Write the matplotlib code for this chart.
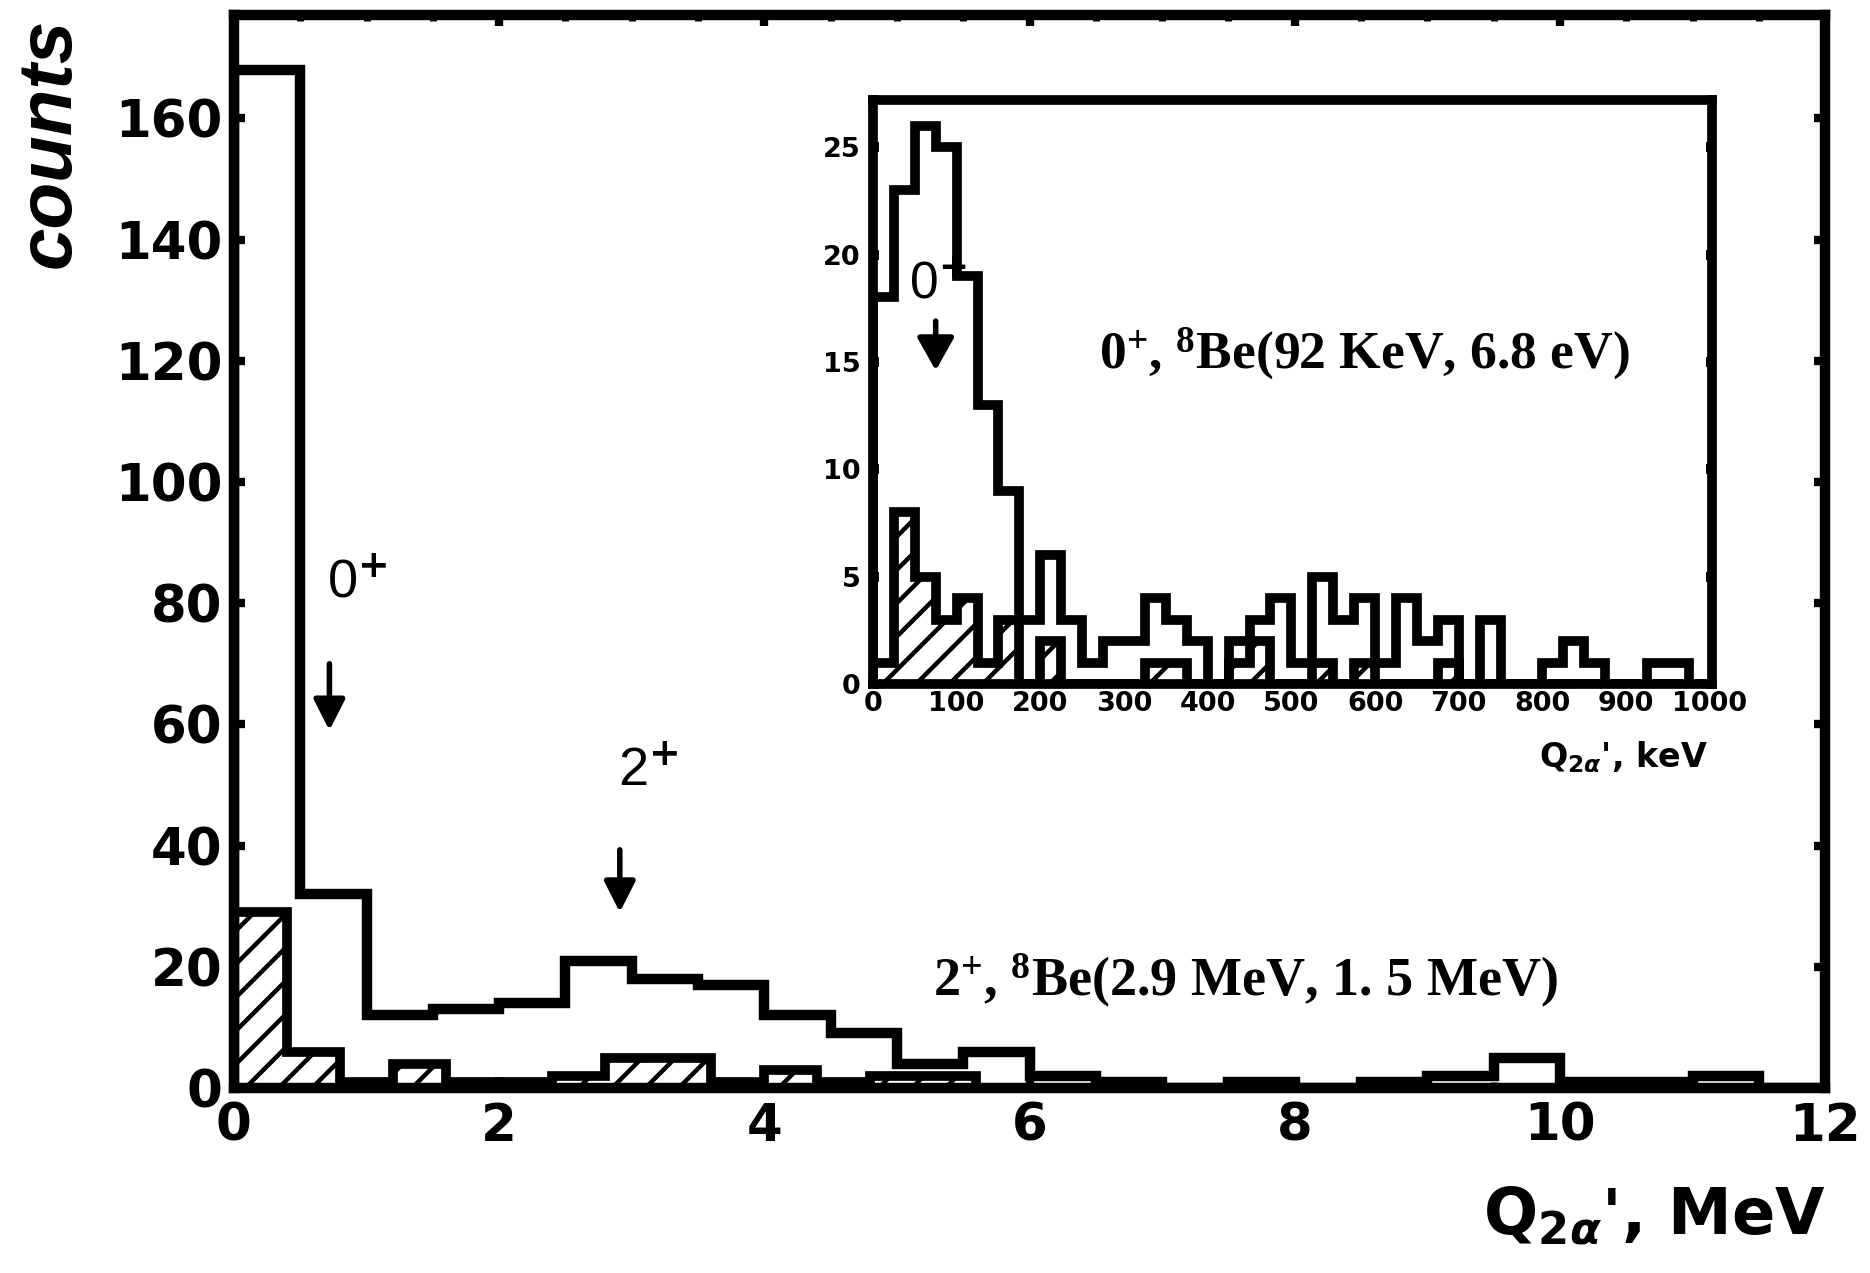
import numpy as np
import matplotlib.pyplot as plt
from matplotlib.ticker import MultipleLocator

plt.rcParams['font.family'] = 'DejaVu Sans'
plt.rcParams['font.weight'] = 'bold'
plt.rcParams['hatch.linewidth'] = 3.2
plt.rcParams['mathtext.fontset'] = 'dejavusans'
# serif labels use the "custom" math set
plt.rcParams['mathtext.rm'] = 'Liberation Serif:bold'
plt.rcParams['mathtext.it'] = 'Liberation Serif:bold'
plt.rcParams['mathtext.bf'] = 'Liberation Serif:bold'

# main spectrum, Q_2alpha in MeV
mev_bin = 0.5
counts_all = [168, 32, 12, 13, 14, 21, 18, 17, 12, 9, 4, 6,
              2, 1, 0, 1, 0, 1, 2, 5, 1, 1, 2, 0]
mev_bin_sel = 0.4
counts_sel = [29, 6, 1, 4, 1, 1, 2, 5, 5, 1, 3, 1, 2, 2, 0,
              0, 0, 0, 0, 0, 0, 0, 0, 0, 0, 0, 0, 0, 0, 0]

# inset, Q_2alpha in keV
kev_bin = 25
ins_all = [18, 23, 26, 25, 19, 13, 9, 3, 6, 3, 1, 2, 2, 4, 3, 2, 0, 2, 3, 4,
           1, 5, 3, 4, 1, 4, 2, 3, 0, 3, 0, 0, 1, 2, 1, 0, 0, 1, 1, 0]
ins_sel = [1, 8, 5, 3, 4, 1, 3, 0, 2, 0, 0, 0, 0, 1, 1, 0, 0, 1, 2, 0,
           0, 1, 0, 1, 0, 0, 0, 1, 0, 0, 0, 0, 0, 0, 0, 0, 0, 0, 0, 0]

serif_font = ['Liberation Serif', 'DejaVu Serif']
narrow_font = ['Liberation Sans Narrow', 'Liberation Sans', 'DejaVu Sans']

fig = plt.figure(figsize=(18.7, 12.73), dpi=100)

# ---- main plot ----
ax = fig.add_axes([0.1251, 0.1453, 0.8509, 0.8427])
edges_all = np.arange(len(counts_all) + 1) * mev_bin
edges_sel = np.arange(len(counts_sel) + 1) * mev_bin_sel
ax.stairs(counts_sel, edges_sel, fill=True, facecolor='white', edgecolor='k',
          hatch='/', lw=7, zorder=2)
ax.stairs(counts_all, edges_all, color='k', lw=7.5, zorder=3)
ax.set_xlim(0, 12)
ax.set_ylim(0, 177)
ax.xaxis.set_major_locator(MultipleLocator(2))
ax.xaxis.set_minor_locator(MultipleLocator(0.5))
ax.yaxis.set_major_locator(MultipleLocator(20))
ax.tick_params(which='both', direction='in', top=True, right=True)
ax.tick_params(which='major', length=8, width=6, labelsize=37)
ax.tick_params(which='minor', length=4, width=5)
ax.tick_params(axis='x', pad=10)
ax.tick_params(axis='y', pad=8)
for s in ax.spines.values():
    s.set_linewidth(7.5)

ax.annotate('', xy=(0.72, 59), xytext=(0.72, 70),
            arrowprops=dict(arrowstyle='-|>,head_length=0.75,head_width=0.38',
                            mutation_scale=25, lw=4, color='k',
                            shrinkA=0, shrinkB=0))
ax.annotate('', xy=(2.91, 29), xytext=(2.91, 39.3),
            arrowprops=dict(arrowstyle='-|>,head_length=0.75,head_width=0.38',
                            mutation_scale=25, lw=4, color='k',
                            shrinkA=0, shrinkB=0))
ax.text(0.70, 81, '0$^{+}$', fontsize=39, fontweight='normal',
        family=narrow_font, ha='left', va='baseline')
ax.text(2.90, 49.9, '2$^{+}$', fontsize=39, fontweight='normal',
        family=narrow_font, ha='left', va='baseline')
ax.text(5.27, 17.6, '2$^{+}$, $^{8}$Be(2.9 MeV, 1. 5 MeV)', fontsize=39,
        family=serif_font, fontweight='bold', math_fontfamily='custom',
        ha='left', va='center')

fig.text(0.976, 0.0448, r"Q$_{2\alpha}$', MeV", fontsize=46,
         ha='right', va='center')
fig.text(0.0267, 0.986, 'counts', rotation=90, fontsize=55,
         family=['Liberation Sans', 'DejaVu Sans'], style='italic',
         fontweight='bold', ha='center', va='top')

# ---- inset ----
ins = fig.add_axes([0.4668, 0.4627, 0.4487, 0.4588])
kev_edges = np.arange(len(ins_all) + 1) * kev_bin
ins.stairs(ins_sel, kev_edges, fill=True, facecolor='white', edgecolor='k',
           hatch='/', lw=7, zorder=2)
ins.stairs(ins_all, kev_edges, color='k', lw=7, zorder=3)
ins.set_xlim(0, 1002.5)
ins.set_ylim(0, 27.2)
ins.xaxis.set_major_locator(MultipleLocator(100))
ins.yaxis.set_major_locator(MultipleLocator(5))
ins.tick_params(axis='y', direction='in', left=True, right=True,
                length=4.5, width=7, labelsize=19.5, pad=9)
ins.tick_params(axis='x', length=0, labelsize=19.5, pad=5)
for s in ins.spines.values():
    s.set_linewidth(7)

ins.annotate('', xy=(75, 14.6), xytext=(75, 16.9),
             arrowprops=dict(arrowstyle='-|>,head_length=0.8,head_width=0.45',
                             mutation_scale=25, lw=4, color='k',
                             shrinkA=0, shrinkB=0))
ins.text(43, 18.0, '0$^{+}$', fontsize=37, fontweight='normal',
         family=narrow_font, ha='left', va='baseline')
ins.text(270, 15.4, '0$^{+}$, $^{8}$Be(92 KeV, 6.8 eV)', fontsize=38.5,
         family=serif_font, fontweight='bold', math_fontfamily='custom',
         ha='left', va='center')

fig.text(0.9134, 0.4054, r"Q$_{2\alpha}$', keV", fontsize=24,
         ha='right', va='center')

plt.savefig('out.png', dpi=100)
